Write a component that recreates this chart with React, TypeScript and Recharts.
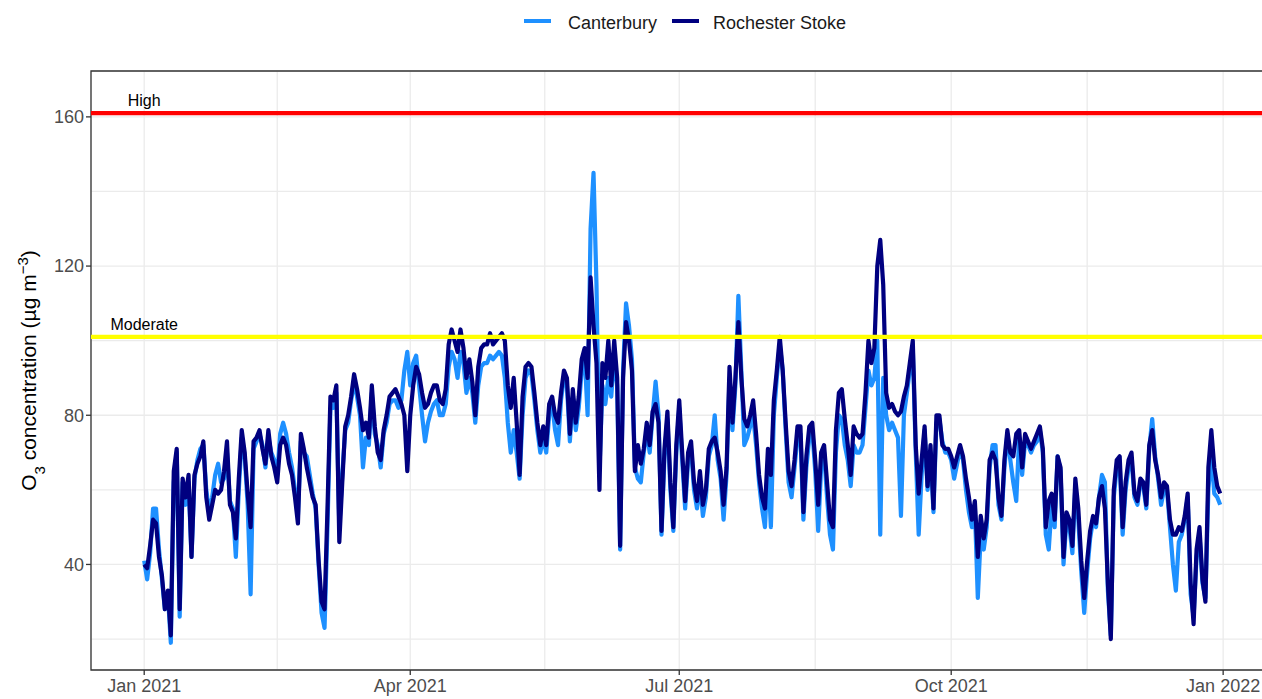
import React from 'react';
import {
  LineChart,
  Line,
  XAxis,
  YAxis,
  CartesianGrid,
  ReferenceLine,
  ReferenceArea,
  ReferenceDot,
} from 'recharts';

const FONT = '"Liberation Sans", Arial, Helvetica, sans-serif';

// x axis: days since 1 Jan 2021
const X_MAJOR = [0, 90, 181, 273, 365];
const X_LABELS = ['Jan 2021', 'Apr 2021', 'Jul 2021', 'Oct 2021', 'Jan 2022'];
const X_MINOR = [45, 135.5, 227, 319];
const Y_MAJOR = [40, 80, 120, 160];
const Y_MINOR = [20, 60, 100, 140];
const X_DOMAIN: [number, number] = [-18, 382.2];
const Y_DOMAIN: [number, number] = [11.7, 172.3];

const THRESHOLD_NAMES = ['Moderate', 'High'];
const THRESHOLD_VALUES = [101, 161];
const THRESHOLD_COLORS = ['#FFFF00', '#FF0000'];
const THRESHOLD_LABEL_Y = [104.5, 164.5];

const SERIES_NAMES = ['Canterbury', 'Rochester Stoke'];
const SERIES_COLORS = ['#1E90FF', '#000080'];

// daily O3 concentration, Rochester Stoke (day 0 = 1 Jan 2021)
const ROCHESTER = [
  40, 39, 45, 52, 51, 42, 37, 28, 33, 21,
  65, 71, 28, 63, 58, 64, 42, 64, 67, 69,
  73, 58, 52, 56, 60, 59, 60, 65, 73, 56,
  54, 47, 63, 76, 70, 59, 50, 73, 74, 76,
  71, 67, 76, 69, 66, 62, 72, 74, 72, 67,
  64, 58, 51, 75, 71, 66, 62, 58, 56, 41,
  30, 28, 55, 85, 84, 88, 46, 62, 77, 80,
  85, 91, 87, 82, 76, 78, 74, 88, 77, 70,
  68, 76, 80, 85, 86, 87, 85, 83, 80, 65,
  80, 88, 93, 91, 86, 82, 83, 86, 88, 88,
  84, 83, 87, 99, 103, 100, 97, 103, 98, 90,
  95, 89, 80, 93, 98, 99, 99, 102, 99, 100,
  101, 102, 100, 88, 82, 90, 78, 64, 85, 93,
  94, 93, 86, 78, 72, 77, 72, 83, 85, 80,
  78, 86, 92, 90, 75, 87, 78, 85, 95, 98,
  90, 117, 104, 94, 60, 94, 90, 100, 88, 100,
  90, 45, 90, 105, 100, 92, 65, 72, 67, 71,
  78, 72, 81, 83, 78, 49, 71, 81, 62, 50,
  72, 84, 70, 57, 70, 73, 62, 57, 65, 56,
  60, 71, 73, 74, 70, 65, 56, 66, 93, 78,
  90, 105, 90, 79, 77, 80, 84, 75, 64, 58,
  55, 71, 64, 84, 92, 101, 92, 78, 65, 61,
  68, 77, 77, 54, 69, 77, 78, 68, 56, 70,
  72, 62, 52, 50, 76, 86, 87, 79, 72, 64,
  77, 75, 74, 75, 86, 100, 94, 98, 120, 127,
  115, 86, 82, 83, 81, 80, 81, 85, 88, 94,
  100, 72, 59, 68, 77, 61, 72, 55, 80, 80,
  72, 71, 71, 69, 66, 69, 72, 69, 63, 58,
  52, 57, 42, 53, 47, 52, 68, 70, 68, 58,
  53, 68, 76, 70, 69, 75, 76, 66, 75, 73,
  71, 73, 75, 77, 71, 50, 57, 59, 52, 69,
  66, 42, 54, 52, 45, 63, 55, 41, 31, 41,
  49, 53, 51, 58, 61, 55, 35, 20, 60, 68,
  69, 50, 62, 68, 70, 59, 57, 63, 62, 56,
  72, 76, 68, 64, 58, 62, 61, 52, 48, 48,
  50, 49, 53, 59, 35, 24, 44, 50, 36, 30,
  66, 76, 66, 61, 59,
];

// daily O3 concentration, Canterbury
const CANTERBURY = [
  41, 36, 43, 55, 55, 44, 36, 28, 32, 19,
  62, 70, 26, 62, 56, 62, 42, 63, 68, 71,
  72, 60, 54, 58, 64, 67, 62, 63, 70, 57,
  55, 42, 60, 74, 69, 56, 32, 71, 73, 75,
  72, 66, 74, 70, 68, 64, 75, 78, 75, 70,
  66, 60, 53, 73, 70, 69, 64, 59, 55, 40,
  27, 23, 50, 82, 82, 86, 50, 64, 76, 78,
  84, 89, 85, 80, 66, 74, 72, 86, 75, 72,
  66, 75, 78, 83, 84, 84, 82, 84, 92, 97,
  88, 94, 96, 88, 80, 73, 78, 81, 83, 84,
  80, 80, 83, 93, 97, 95, 90, 97, 94, 86,
  90, 86, 78, 88, 93, 94, 94, 96, 95, 96,
  97, 96, 90, 78, 70, 76, 70, 63, 80, 90,
  92, 91, 84, 76, 70, 74, 70, 80, 83, 76,
  72, 84, 90, 88, 73, 85, 76, 82, 92, 96,
  80, 130, 145, 115, 65, 88, 83, 90, 85, 96,
  88, 44, 92, 110, 104, 95, 66, 63, 62, 70,
  76, 70, 80, 89, 80, 48, 69, 79, 60, 49,
  70, 82, 68, 55, 68, 71, 60, 55, 62, 53,
  58, 69, 72, 80, 68, 63, 52, 64, 90, 76,
  88, 112, 92, 72, 74, 77, 80, 72, 62, 55,
  50, 67, 50, 80, 90, 99, 92, 76, 62, 58,
  66, 74, 75, 52, 66, 74, 76, 65, 49, 66,
  70, 58, 48, 44, 70, 80, 79, 72, 68, 61,
  72, 70, 70, 72, 82, 92, 88, 90, 100, 48,
  90, 80, 76, 78, 76, 74, 53, 80, 86, 92,
  98, 70, 48, 64, 76, 60, 70, 54, 78, 79,
  73, 70, 70, 68, 63, 67, 71, 68, 60, 54,
  50, 55, 31, 48, 44, 50, 66, 72, 72, 56,
  52, 66, 75, 68, 62, 57, 74, 64, 73, 72,
  70, 72, 73, 76, 70, 48, 44, 56, 50, 69,
  65, 40, 52, 50, 43, 61, 52, 38, 27, 38,
  47, 52, 50, 58, 64, 62, 33, 21, 58, 66,
  67, 48, 60, 66, 68, 58, 56, 62, 61, 55,
  71, 79, 69, 63, 56, 60, 60, 50, 40, 33,
  46, 48, 52, 58, 32, 26, 42, 48, 35, 31,
  60, 70, 59, 58, 56,
];

const data = ROCHESTER.map((r, i) => ({ day: i, rochester: r, canterbury: CANTERBURY[i] }));

const X_ALL = [...X_MAJOR, ...X_MINOR].sort((a, b) => a - b);
const Y_ALL = [...Y_MAJOR, ...Y_MINOR].sort((a, b) => a - b);

const XTick = (props: any) => {
  const { x, y, payload } = props;
  const idx = X_MAJOR.indexOf(payload.value);
  if (idx < 0) return <g />;
  return (
    <g>
      <line x1={x} x2={x} y1={y} y2={y + 5} stroke="#333333" strokeWidth={1.3} />
      <text
        x={x}
        y={y + 9}
        dy="0.71em"
        textAnchor="middle"
        fill="#4D4D4D"
        fontSize={18}
        fontFamily={FONT}
      >
        {X_LABELS[idx]}
      </text>
    </g>
  );
};

const YTick = (props: any) => {
  const { x, y, payload } = props;
  if (!Y_MAJOR.includes(payload.value)) return <g />;
  return (
    <g>
      <line x1={x - 5} x2={x} y1={y} y2={y} stroke="#333333" strokeWidth={1.3} />
      <text
        x={x - 7}
        y={y}
        dy="0.355em"
        textAnchor="end"
        fill="#4D4D4D"
        fontSize={18}
        fontFamily={FONT}
      >
        {payload.value}
      </text>
    </g>
  );
};

const YTitle = (props: any) => {
  const vb = props.viewBox || { x: 0, y: 71, width: 91, height: 599 };
  const cx = vb.x + 36;
  const cy = vb.y + vb.height / 2;
  return (
    <text
      x={cx}
      y={cy}
      transform={`rotate(-90 ${cx} ${cy})`}
      textAnchor="middle"
      fontSize={21}
      fontFamily={FONT}
      fill="#000000"
    >
      O<tspan baselineShift="sub" fontSize={15}>3</tspan>
      <tspan> concentration (µg m</tspan>
      <tspan baselineShift="super" fontSize={15}>−3</tspan>
      <tspan>)</tspan>
    </text>
  );
};

export default function App() {
  return (
    <div
      style={{
        position: 'absolute',
        left: 0,
        top: 0,
        width: 1262,
        height: 699,
        overflow: 'hidden',
        background: '#FFFFFF',
        fontFamily: FONT,
      }}
    >
      <LineChart
        width={1290}
        height={699}
        data={data}
        margin={{ top: 71, right: 16, bottom: 0, left: 0 }}
      >
        <CartesianGrid stroke="#EBEBEB" strokeWidth={1.3} />
        <ReferenceArea
          x1={X_DOMAIN[0]}
          x2={X_DOMAIN[1]}
          y1={Y_DOMAIN[0]}
          y2={Y_DOMAIN[1]}
          fill="none"
          fillOpacity={0}
          stroke="#333333"
          strokeWidth={1.3}
          ifOverflow="visible"
        />
        <XAxis
          type="number"
          dataKey="day"
          domain={X_DOMAIN}
          allowDataOverflow
          ticks={X_ALL}
          interval={0}
          tick={<XTick />}
          tickLine={false}
          axisLine={false}
          tickSize={0}
          tickMargin={0}
          height={29}
        />
        <YAxis
          type="number"
          domain={Y_DOMAIN}
          allowDataOverflow
          ticks={Y_ALL}
          interval={0}
          tick={<YTick />}
          tickLine={false}
          axisLine={false}
          tickSize={0}
          tickMargin={0}
          width={91}
          label={<YTitle />}
        />
        <Line
          type="linear"
          dataKey="canterbury"
          name={SERIES_NAMES[0]}
          stroke={SERIES_COLORS[0]}
          strokeWidth={4.2}
          strokeLinejoin="round"
          dot={false}
          activeDot={false}
          isAnimationActive={false}
        />
        <Line
          type="linear"
          dataKey="rochester"
          name={SERIES_NAMES[1]}
          stroke={SERIES_COLORS[1]}
          strokeWidth={4.2}
          strokeLinejoin="round"
          dot={false}
          activeDot={false}
          isAnimationActive={false}
        />
        {THRESHOLD_VALUES.map((v, i) => (
          <ReferenceLine
            key={`thr-${i}`}
            y={v}
            stroke={THRESHOLD_COLORS[i]}
            strokeWidth={4.2}
            ifOverflow="visible"
          />
        ))}
        {THRESHOLD_VALUES.map((v, i) => (
          <ReferenceDot
            key={`lab-${i}`}
            x={0}
            y={THRESHOLD_LABEL_Y[i]}
            r={1}
            fill="none"
            stroke="none"
            ifOverflow="visible"
            label={{
              value: THRESHOLD_NAMES[i],
              position: 'center',
              fill: '#000000',
              fontSize: 16,
              fontFamily: FONT,
            }}
          />
        ))}
      </LineChart>
      {SERIES_NAMES.map((name, i) => (
        <React.Fragment key={name}>
          <div
            style={{
              position: 'absolute',
              left: i === 0 ? 524 : 672,
              top: 18.5,
              width: 27,
              height: 4,
              background: SERIES_COLORS[i],
            }}
          />
          <div
            style={{
              position: 'absolute',
              left: i === 0 ? 568 : 713,
              top: 11.5,
              fontSize: 18,
              lineHeight: '22px',
              color: '#1A1A1A',
              whiteSpace: 'nowrap',
              fontFamily: FONT,
            }}
          >
            {name}
          </div>
        </React.Fragment>
      ))}
    </div>
  );
}
